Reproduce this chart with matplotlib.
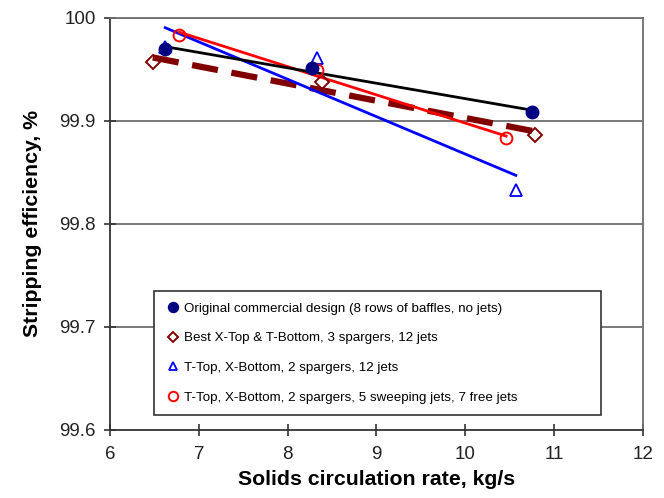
import matplotlib.pyplot as plt
import numpy as np

plt.rcParams['font.family'] = ['Liberation Sans', 'DejaVu Sans']

# Data
orig_x = [6.62, 8.27, 10.75]
orig_y = [99.970, 99.951, 99.909]

best_x = [6.48, 8.39, 10.79]
best_y = [99.957, 99.938, 99.886]

ttop12_x = [6.62, 8.33, 10.57]
ttop12_y = [99.972, 99.961, 99.833]

ttop5_x = [6.78, 8.33, 10.46]
ttop5_y = [99.983, 99.949, 99.883]

labels = [
    "Original commercial design (8 rows of baffles, no jets)",
    "Best X-Top & T-Bottom, 3 spargers, 12 jets",
    "T-Top, X-Bottom, 2 spargers, 12 jets",
    "T-Top, X-Bottom, 2 spargers, 5 sweeping jets, 7 free jets",
]

x_ticks = [6, 7, 8, 9, 10, 11, 12]
y_ticks = [99.6, 99.7, 99.8, 99.9, 100]


def trend(x, y):
    # linear trendline across the data range
    k, b = np.polyfit(x, y, 1)
    xs = np.array([min(x), max(x)])
    return xs, k * xs + b


fig = plt.figure(figsize=(6.64, 4.98), dpi=100)
ax = fig.add_axes([0.166, 0.137, 0.802, 0.827])

# Gridlines
for yv in y_ticks[1:]:
    ax.axhline(yv, color="#6e6e6e", linewidth=1.3, zorder=1)

# Trendlines
xs, ys = trend(best_x, best_y)
ax.plot(xs, ys, color="#800000", linewidth=4.5, dashes=(4.2, 2.2), zorder=2)
xs, ys = trend(ttop12_x, ttop12_y)
ax.plot(xs, ys, color="#0000ff", linewidth=2, zorder=3)
xs, ys = trend(ttop5_x, ttop5_y)
ax.plot(xs, ys, color="#ff0000", linewidth=2, zorder=3)
xs, ys = trend(orig_x, orig_y)
ax.plot(xs, ys, color="black", linewidth=2, zorder=4)

# Markers
ax.plot(ttop12_x, ttop12_y, linestyle="none", marker="^", markersize=8,
        markerfacecolor="none", markeredgecolor="#0000ff", markeredgewidth=1.3,
        zorder=5, label=labels[2])
ax.plot(best_x, best_y, linestyle="none", marker="D", markersize=7,
        markerfacecolor="none", markeredgecolor="#800000", markeredgewidth=1.4,
        zorder=5, label=labels[1])
ax.plot(ttop5_x, ttop5_y, linestyle="none", marker="o", markersize=8.5,
        markerfacecolor="none", markeredgecolor="#ff0000", markeredgewidth=1.4,
        zorder=5, label=labels[3])
ax.plot(orig_x, orig_y, linestyle="none", marker="o", markersize=9,
        color="#000080", zorder=6, label=labels[0])

ax.set_xlim(6, 12)
ax.set_ylim(99.6, 100)
ax.set_xticks(x_ticks)
ax.set_yticks(y_ticks)
ax.set_xticklabels([str(v) for v in x_ticks])
ax.set_yticklabels(["99.6", "99.7", "99.8", "99.9", "100"])
ax.tick_params(direction="inout", length=9, width=1.2, colors="#333333",
               labelsize=13.5, labelcolor="#222222")
ax.tick_params(axis="x", pad=7)
ax.tick_params(axis="y", pad=6)

for side in ["left", "bottom"]:
    ax.spines[side].set_color("#333333")
    ax.spines[side].set_linewidth(1.3)
for side in ["top", "right"]:
    ax.spines[side].set_color("#6e6e6e")
    ax.spines[side].set_linewidth(1.3)

ax.set_xlabel("Solids circulation rate, kg/s", fontsize=15.3, fontweight="bold",
              labelpad=5)
ax.set_ylabel("Stripping efficiency, %", fontsize=15.3, fontweight="bold",
              labelpad=12)

# Legend in the original order
handles, labs = ax.get_legend_handles_labels()
order = [labs.index(l) for l in labels]
leg = ax.legend([handles[i] for i in order], [labs[i] for i in order],
                loc="lower left", bbox_to_anchor=(0.069, 0.02, 0.865, 0.31),
                mode="expand", fontsize=9.6, frameon=True, fancybox=False,
                edgecolor="#333333", framealpha=1, labelspacing=1.3,
                handletextpad=0.2, handlelength=1.2, borderpad=0.85,
                markerscale=0.8)
leg.get_frame().set_linewidth(1.2)
leg.set_zorder(10)

fig.savefig("out.png", dpi=100)
